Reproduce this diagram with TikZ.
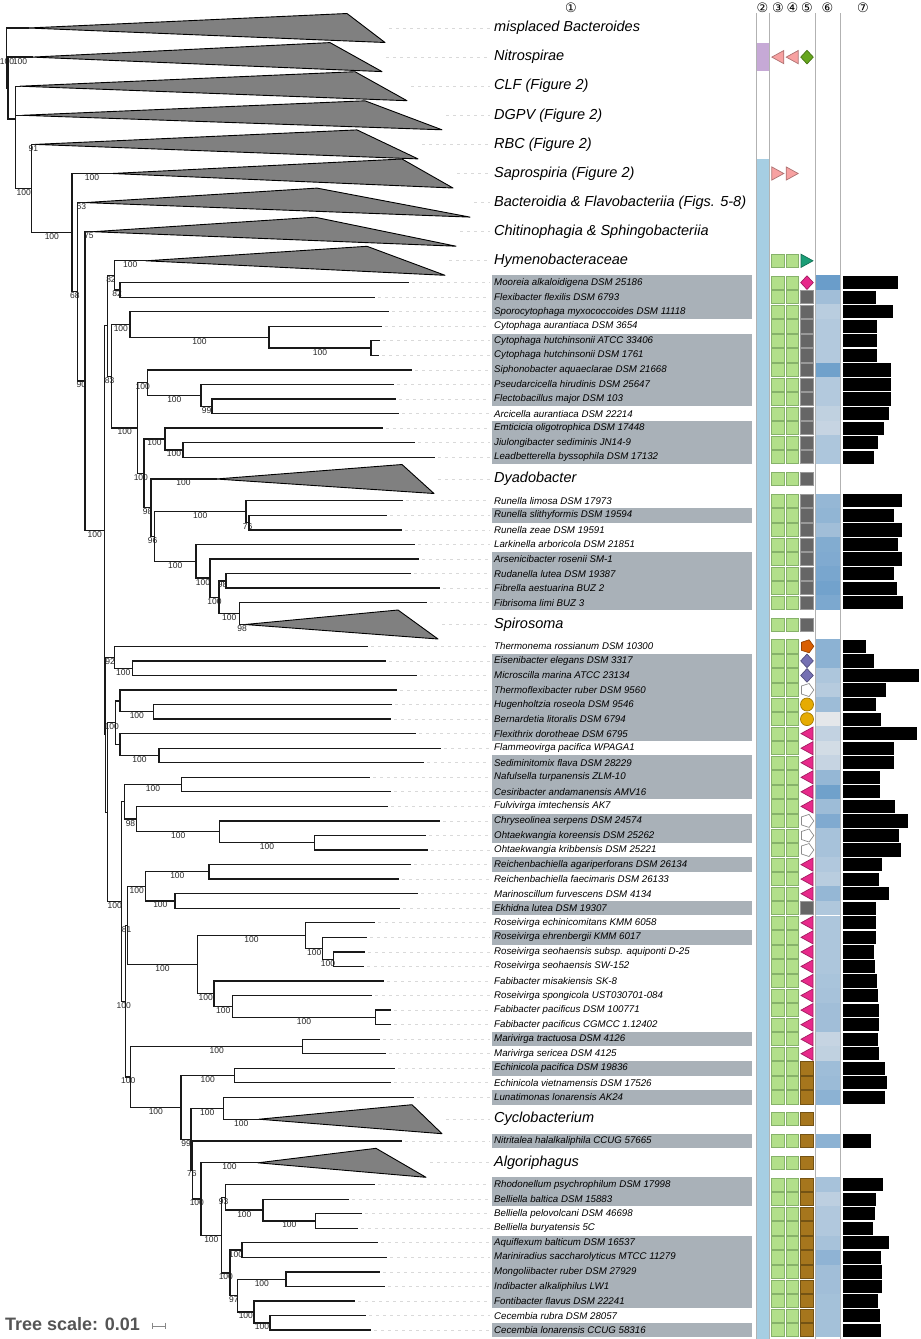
\documentclass[tikz,border=0pt]{standalone}
\usepackage{fontspec}
\setmainfont{Liberation Sans}
\newfontfamily\djv{DejaVu Sans}

\definecolor{hlgrey}{HTML}{A9B1B8}
\definecolor{colblue}{HTML}{A6CEE3}
\definecolor{colpurple}{HTML}{C6A9D6}
\definecolor{sqgreen}{HTML}{B2DF8A}
\definecolor{sqline}{HTML}{86B26A}
\definecolor{dkgrey}{HTML}{666666}
\definecolor{symbrown}{HTML}{A6761D}
\definecolor{symsalmon}{HTML}{F7A1A1}
\definecolor{symmag}{HTML}{E7298A}
\definecolor{sympurple}{HTML}{7570B3}
\definecolor{symorange}{HTML}{D95F02}
\definecolor{symgold}{HTML}{E6AB02}
\definecolor{symteal}{HTML}{1B9E77}
\definecolor{symolive}{HTML}{66A61E}
\definecolor{hmhi}{HTML}{6A9DCA}
\definecolor{hmlo}{HTML}{E4E7EA}
\definecolor{treegrey}{HTML}{808080}
\definecolor{scalegrey}{HTML}{555555}

% column 3-5 symbols (x, y) or (y) with column 5 at x=807
\newcommand\greensq[2]{\filldraw[symline,fill=sqgreen,draw=sqline] (#1-6.3,#2-6.6) rectangle (#1+6.3,#2+6.6);}
\newcommand\salmonleft[2]{\filldraw[symline,fill=symsalmon,draw=symsalmon!70!black] (#1+6,#2-6.6) -- (#1+6,#2+6.6) -- (#1-6,#2) -- cycle;}
\newcommand\salmonright[2]{\filldraw[symline,fill=symsalmon,draw=symsalmon!70!black] (#1-6,#2-6.6) -- (#1-6,#2+6.6) -- (#1+6,#2) -- cycle;}
\newcommand\symgs[1]{\filldraw[symline,fill=dkgrey,draw=black!40] (800.7,#1-6.6) rectangle (813.3,#1+6.6);}
\newcommand\symbq[1]{\filldraw[symline,fill=symbrown,draw=symbrown!70!black] (800.7,#1-6.6) rectangle (813.3,#1+6.6);}
\newcommand\symmd[1]{\filldraw[symline,fill=symmag,draw=symmag!70!black] (807,#1-6.8) -- (813.3,#1) -- (807,#1+6.8) -- (800.7,#1) -- cycle;}
\newcommand\sympd[1]{\filldraw[symline,fill=sympurple,draw=sympurple!70!black] (807,#1-6.8) -- (813.3,#1) -- (807,#1+6.8) -- (800.7,#1) -- cycle;}
\newcommand\symolive[1]{\filldraw[symline,fill=symolive,draw=symolive!70!black] (807,#1-6.8) -- (813.3,#1) -- (807,#1+6.8) -- (800.7,#1) -- cycle;}
\newcommand\symml[1]{\filldraw[symline,fill=symmag,draw=symmag!70!black] (813,#1-6.6) -- (813,#1+6.6) -- (801,#1) -- cycle;}
\newcommand\symteal[1]{\filldraw[symline,fill=symteal,draw=symteal!70!black] (801,#1-6.6) -- (801,#1+6.6) -- (813,#1) -- cycle;}
\newcommand\symop[1]{\filldraw[symline,fill=symorange,draw=symorange!70!black] (813.8,#1) -- (809.1,#1-6.5) -- (801.5,#1-4) -- (801.5,#1+4) -- (809.1,#1+6.5) -- cycle;}
\newcommand\symwp[1]{\filldraw[symline,fill=white,draw=black!45] (813.8,#1) -- (809.1,#1-6.5) -- (801.5,#1-4) -- (801.5,#1+4) -- (809.1,#1+6.5) -- cycle;}
\newcommand\symoc[1]{\filldraw[symline,fill=symgold,draw=symgold!70!black] (807,#1) circle (6.5);}

\begin{document}
\begin{tikzpicture}[x=1pt,y=-1pt]
  \tikzstyle{br}=[line width=1.3pt,draw=black!90,line cap=rect]
  \tikzstyle{bsfont}=[inner sep=0pt,text=black!85,font=\fontsize{8.5}{9}\selectfont]
  \tikzstyle{bs}=[bsfont,pos=0.75,yshift=-4pt]
  \tikzstyle{leaf}=[anchor=west,inner sep=0pt,font=\itshape\fontsize{9.7}{11}\selectfont]
  \tikzstyle{cladelab}=[anchor=west,inner sep=0pt,font=\itshape\fontsize{14.5}{16}\selectfont]
  \tikzstyle{clade}=[fill=treegrey,draw=black,line width=0.9pt,line join=round]
  \tikzstyle{guide}=[draw=black!15,line width=0.7pt,dash pattern=on 3pt off 4pt]
  \tikzstyle{hl}=[fill=hlgrey]
  \tikzstyle{symline}=[line width=0.7pt]
  \tikzstyle{colline}=[draw=black!30,line width=0.9pt]
  \tikzstyle{circnum}=[inner sep=0pt,font=\djv\fontsize{13}{14}\selectfont]

  \useasboundingbox (0,0) rectangle (921,1339);

  % column 2
  \fill[colpurple] (757,42.8) rectangle (768.5,71.4);
  \fill[colblue] (757,158.8) rectangle (768.5,1339);

  % internal nodes of the tree
  \coordinate (R0) at (6.7,58);
  \coordinate (R1) at (8,88);
  \coordinate (R2) at (15.7,119);
  \coordinate (R4) at (31.7,188.6);
  \coordinate (R5) at (72,232.7);
  \coordinate (R6) at (77.7,291.8);
  \coordinate (R7) at (85,381.0);
  \coordinate (R8) at (104.3,530.3);
  \coordinate (n82) at (107.7,325.8);
  \coordinate (nHm) at (114.3,275.4);
  \coordinate (nMF) at (120,289.9);
  \coordinate (n83) at (111.7,376.3);
  \coordinate (nCyto) at (130,324.5);
  \coordinate (nCa) at (269,337.2);
  \coordinate (nCh) at (371,348.1);
  \coordinate (n137) at (137.7,428.0);
  \coordinate (nSi) at (147.7,382.7);
  \coordinate (nPs) at (201,395.4);
  \coordinate (nFl) at (212,406.3);
  \coordinate (n144) at (144,473.4);
  \coordinate (nEm) at (165,439.0);
  \coordinate (nJi) at (183,450.0);
  \coordinate (n151) at (151,507.8);
  \coordinate (n154) at (154.3,536.5);
  \coordinate (nRu) at (246,511.7);
  \coordinate (nRz) at (249,522.7);
  \coordinate (nLa) at (196,561.3);
  \coordinate (nAr) at (210,578.1);
  \coordinate (n219) at (219,597.2);
  \coordinate (nRd) at (226,580.9);
  \coordinate (nFb) at (239.3,613.6);
  \coordinate (nA) at (105.7,734.7);
  \coordinate (nT) at (114.3,657.2);
  \coordinate (nT2) at (132.3,668.2);
  \coordinate (nF) at (107.7,812.2);
  \coordinate (nU) at (115.7,722.7);
  \coordinate (nU1) at (120,700.9);
  \coordinate (nU1b) at (153.7,711.8);
  \coordinate (nU2) at (120,744.5);
  \coordinate (nU2b) at (159,755.4);
  \coordinate (nC) at (121.7,901.6);
  \coordinate (nB1) at (124.3,801.8);
  \coordinate (nNC) at (181.7,784.5);
  \coordinate (nFu) at (136.7,819.1);
  \coordinate (nCs) at (219.7,831.8);
  \coordinate (nOh) at (314.3,842.7);
  \coordinate (nE) at (125.7,1001.3);
  \coordinate (nRR) at (127.7,925.5);
  \coordinate (nRei) at (145.7,886.4);
  \coordinate (nRF) at (209,871.8);
  \coordinate (nME) at (175,901.0);
  \coordinate (nRos) at (197.3,964.6);
  \coordinate (nRec) at (305.7,935.5);
  \coordinate (nReh) at (322.7,948.2);
  \coordinate (nRs) at (333.3,959.2);
  \coordinate (nFm) at (214,993.7);
  \coordinate (nRsp) at (232.3,1006.4);
  \coordinate (nFP) at (375.7,1017.4);
  \coordinate (nMj) at (130.7,1077.0);
  \coordinate (nMar) at (302.7,1046.5);
  \coordinate (nJ) at (181,1107.4);
  \coordinate (nEc) at (234.3,1075.6);
  \coordinate (nK) at (191,1139.2);
  \coordinate (nLc) at (223.3,1108.3);
  \coordinate (nN76) at (192.7,1170.0);
  \coordinate (nG) at (201,1199.0);
  \coordinate (nH) at (221.7,1235.2);
  \coordinate (nH1) at (225.7,1197.4);
  \coordinate (nB2) at (263,1210.1);
  \coordinate (nB3) at (315.7,1221.0);
  \coordinate (nM) at (230,1272.9);
  \coordinate (nAM) at (242,1250.1);
  \coordinate (nL) at (237.7,1295.6);
  \coordinate (nMI) at (286,1279.2);
  \coordinate (nFC) at (254,1312.0);
  \coordinate (nCC) at (270,1322.9);

  % collapsed clades
  \foreach \c/\y/\ax/\tx/\bx/\lab in {
    cMis/28.0/28/347/385/misplaced Bacteroides,
    cNit/57.1/32/330/382/Nitrospirae,
    cCLF/86.2/20/355/407/CLF (Figure 2),
    cDGPV/115.3/22/365/442/DGPV (Figure 2),
    cRBC/144.4/35/357/418/RBC (Figure 2),
    cSap/173.5/112/402/453/Saprospiria (Figure 2),
    cBac/202.6/85/317/470/Bacteroidia \& Flavobacteriia (Figs. 5-8),
    cChi/231.7/93/315/456/Chitinophagia \& Sphingobacteriia,
    cHym/260.8/146/367/445/Hymenobacteraceae,
    cDya/479.0/216/402/434/Dyadobacter,
    cSpi/624.5/245/398/438/Spirosoma,
    cCyc/1119.2/259/412/442/Cyclobacterium,
    cAlg/1162.8/258/376/426/Algoriphagus}{
    \coordinate (\c) at (\ax,\y);
    \draw[guide] (\bx+4,\y) -- (490,\y);
    \filldraw[clade] (\c) -- (\tx,\y-14.5) -- (\bx,\y+14.5) -- cycle;
    \node[cladelab] (l\c) at (494,\y) {\lab};
  }

  % branches with bootstrap values
  \node[bsfont] (rootbs) at (7,62) {100};
  \draw[br] (R0) |- (cMis);
  \draw[br] (R0) |- (R1);
  \draw[br] (R1) |- node[bs]{100} (cNit);
  \draw[br] (R1) |- (R2);
  \draw[br] (R2) |- (cCLF);
  \draw[br] (R2) |- (cDGPV);
  \draw[br] (R2) |- node[bs]{100} (R4);
  \draw[br] (R4) |- node[bs]{91} (cRBC);
  \draw[br] (R4) |- node[bs]{100} (R5);
  \draw[br] (R5) |- node[bs]{100} (cSap);
  \draw[br] (R5) |- node[bs]{68} (R6);
  \draw[br] (R6) |- node[bs]{63} (cBac);
  \draw[br] (R6) |- node[bs]{90} (R7);
  \draw[br] (R7) |- node[bs]{75} (cChi);
  \draw[br] (R7) |- node[bs]{100} (R8);
  \draw[br] (R8) |- (n82);
  \draw[br] (R8) |- (nA);
  \draw[br] (n82) |- node[bs]{82} (nHm);
  \draw[br] (n82) |- node[bs]{83} (n83);
  \draw[br] (nHm) |- node[bs]{100} (cHym);
  \draw[br] (nHm) |- node[bs]{82} (nMF);
  \draw[br] (n83) |- node[bs]{100} (nCyto);
  \draw[br] (n83) |- node[bs]{100} (n137);
  \draw[br] (nCyto) |- node[bs]{100} (nCa);
  \draw[br] (nCa) |- node[bs]{100} (nCh);
  \draw[br] (n137) |- node[bs]{100} (nSi);
  \draw[br] (n137) |- node[bs]{100} (n144);
  \draw[br] (nSi) |- node[bs]{100} (nPs);
  \draw[br] (nPs) |- node[bs]{99} (nFl);
  \draw[br] (n144) |- node[bs]{100} (nEm);
  \draw[br] (n144) |- node[bs]{98} (n151);
  \draw[br] (nEm) |- node[bs]{100} (nJi);
  \draw[br] (n151) |- node[bs]{100} (cDya);
  \draw[br] (n151) |- node[bs]{96} (n154);
  \draw[br] (n154) |- node[bs]{100} (nRu);
  \draw[br] (n154) |- node[bs]{100} (nLa);
  \draw[br] (nRu) |- node[bs]{76} (nRz);
  \draw[br] (nLa) |- node[bs]{100} (nAr);
  \draw[br] (nAr) |- node[bs]{100} (n219);
  \draw[br] (n219) |- node[bs]{98} (nRd);
  \draw[br] (n219) |- node[bs]{100} (nFb);
  \draw[br] (nFb) |- node[bs]{98} (cSpi);
  \draw[br] (nA) |- node[bs]{92} (nT);
  \draw[br] (nA) |- (nF);
  \draw[br] (nT) |- node[bs]{100} (nT2);
  \draw[br] (nF) |- node[bs]{100} (nU);
  \draw[br] (nF) |- node[bs]{100} (nC);
  \draw[br] (nU) |- (nU1);
  \draw[br] (nU) |- (nU2);
  \draw[br] (nU1) |- node[bs]{100} (nU1b);
  \draw[br] (nU2) |- node[bs]{100} (nU2b);
  \draw[br] (nC) |- (nB1);
  \draw[br] (nC) |- node[bs]{100} (nE);
  \draw[br] (nB1) |- node[bs]{100} (nNC);
  \draw[br] (nB1) |- node[bs]{98} (nFu);
  \draw[br] (nFu) |- node[bs]{100} (nCs);
  \draw[br] (nCs) |- node[bs]{100} (nOh);
  \draw[br] (nE) |- node[bs]{81} (nRR);
  \draw[br] (nE) |- node[bs]{100} (nMj);
  \draw[br] (nRR) |- node[bs]{100} (nRei);
  \draw[br] (nRR) |- node[bs]{100} (nRos);
  \draw[br] (nRei) |- node[bs]{100} (nRF);
  \draw[br] (nRei) |- node[bs]{100} (nME);
  \draw[br] (nRos) |- node[bs]{100} (nRec);
  \draw[br] (nRos) |- node[bs]{100} (nFm);
  \draw[br] (nRec) |- node[bs]{100} (nReh);
  \draw[br] (nReh) |- node[bs]{100} (nRs);
  \draw[br] (nFm) |- node[bs]{100} (nRsp);
  \draw[br] (nRsp) |- node[bs]{100} (nFP);
  \draw[br] (nMj) |- node[bs]{100} (nMar);
  \draw[br] (nMj) |- node[bs]{100} (nJ);
  \draw[br] (nJ) |- node[bs]{100} (nEc);
  \draw[br] (nJ) |- node[bs]{99} (nK);
  \draw[br] (nK) |- node[bs]{100} (nLc);
  \draw[br] (nK) |- node[bs]{76} (nN76);
  \draw[br] (nLc) |- node[bs]{100} (cCyc);
  \draw[br] (nN76) |- node[bs]{100} (nG);
  \draw[br] (nG) |- node[bs]{100} (cAlg);
  \draw[br] (nG) |- node[bs]{100} (nH);
  \draw[br] (nH) |- node[bs]{93} (nH1);
  \draw[br] (nH) |- node[bs]{100} (nM);
  \draw[br] (nH1) |- node[bs]{100} (nB2);
  \draw[br] (nB2) |- node[bs]{100} (nB3);
  \draw[br] (nM) |- node[bs]{100} (nAM);
  \draw[br] (nM) |- node[bs]{97} (nL);
  \draw[br] (nL) |- node[bs]{100} (nMI);
  \draw[br] (nL) |- node[bs]{100} (nFC);
  \draw[br] (nFC) |- node[bs]{100} (nCC);

  % leaves: y / name / tip / parent / symbol 5 / heat 6 / bar 7 / highlight
  \foreach \y/\n/\tx/\p/\s/\h/\b/\hl [count=\i] in {
    282.6/Mooreia alkaloidigena DSM 25186/408/nMF/md/100/898/1,
    297.2/Flexibacter flexilis DSM 6793/374/nMF/gs/55/876/1,
    311.7/Sporocytophaga myxococcoides DSM 11118/388/nCyto/gs/35/893/1,
    326.3/Cytophaga aurantiaca DSM 3654/381/nCa/gs/40/877/0,
    340.8/Cytophaga hutchinsonii ATCC 33406/379/nCh/gs/40/877/1,
    355.4/Cytophaga hutchinsonii DSM 1761/378/nCh/gs/40/877/1,
    369.9/Siphonobacter aquaeclarae DSM 21668/411/nSi/gs/95/891/1,
    384.5/Pseudarcicella hirudinis DSM 25647/393/nPs/gs/40/891/1,
    399.0/Flectobacillus major DSM 103/395/nFl/gs/40/891/1,
    413.6/Arcicella aurantiaca DSM 22214/398/nFl/gs/30/889/0,
    428.1/Emticicia oligotrophica DSM 17448/382/nEm/gs/25/884/1,
    442.7/Jiulongibacter sediminis JN14-9/414/nJi/gs/45/878/1,
    457.2/Leadbetterella byssophila DSM 17132/434/nJi/gs/45/874/1,
    500.8/Runella limosa DSM 17973/402/nRu/gs/65/902/0,
    515.4/Runella slithyformis DSM 19594/386/nRz/gs/68/894/1,
    529.9/Runella zeae DSM 19591/401/nRz/gs/55/902/0,
    544.5/Larkinella arboricola DSM 21851/414/nLa/gs/80/898/0,
    559.0/Arsenicibacter rosenii SM-1/418/nAr/gs/82/902/1,
    573.6/Rudanella lutea DSM 19387/410/nRd/gs/88/894/1,
    588.1/Fibrella aestuarina BUZ 2/439/nRd/gs/93/897/1,
    602.7/Fibrisoma limi BUZ 3/426/nFb/gs/85/903/1,
    646.3/Thermonema rossianum DSM 10300/367/nT/op/72/866/0,
    660.9/Eisenibacter elegans DSM 3317/385/nT2/pd/72/874/1,
    675.4/Microscilla marina ATCC 23134/416/nT2/pd/45/919/1,
    690.0/Thermoflexibacter ruber DSM 9560/396/nU1/wp/38/886/1,
    704.5/Hugenholtzia roseola DSM 9546/391/nU1b/oc/58/876/1,
    719.1/Bernardetia litoralis DSM 6794/390/nU1b/oc/0/881/1,
    733.6/Flexithrix dorotheae DSM 6795/415/nU2/ml/28/917/1,
    748.2/Flammeovirga pacifica WPAGA1/440/nU2b/ml/15/894/0,
    762.7/Sediminitomix flava DSM 28229/423/nU2b/ml/25/894/1,
    777.3/Nafulsella turpanensis ZLM-10/369/nNC/ml/65/880/1,
    791.8/Cesiribacter andamanensis AMV16/390/nNC/ml/95/880/1,
    806.4/Fulvivirga imtechensis AK7/387/nFu/ml/58/895/0,
    820.9/Chryseolinea serpens DSM 24574/439/nCs/wp/82/908/1,
    835.5/Ohtaekwangia koreensis DSM 25262/425/nOh/wp/50/899/1,
    850.0/Ohtaekwangia kribbensis DSM 25221/427/nOh/wp/50/901/0,
    864.6/Reichenbachiella agariperforans DSM 26134/410/nRF/ml/42/882/1,
    879.1/Reichenbachiella faecimaris DSM 26133/398/nRF/ml/35/879/0,
    893.7/Marinoscillum furvescens DSM 4134/417/nME/ml/65/889/0,
    908.2/Ekhidna lutea DSM 19307/399/nME/gs/43/876/1,
    922.8/Roseivirga echinicomitans KMM 6058/374/nRec/ml/45/876/0,
    937.3/Roseivirga ehrenbergii KMM 6017/366/nReh/ml/45/876/1,
    951.9/Roseivirga seohaensis subsp. aquiponti D-25/364/nRs/ml/45/874/0,
    966.4/Roseivirga seohaensis SW-152/363/nRs/ml/45/875/0,
    981.0/Fabibacter misakiensis SK-8/383/nFm/ml/48/877/0,
    995.5/Roseivirga spongicola UST030701-084/371/nRsp/ml/50/878/0,
    1010.1/Fabibacter pacificus DSM 100771/390/nFP/ml/55/879/0,
    1024.6/Fabibacter pacificus CGMCC 1.12402/390/nFP/ml/55/879/0,
    1039.2/Marivirga tractuosa DSM 4126/379/nMar/ml/25/878/1,
    1053.7/Marivirga sericea DSM 4125/385/nMar/ml/30/879/0,
    1068.3/Echinicola pacifica DSM 19836/394/nEc/bq/57/885/1,
    1082.8/Echinicola vietnamensis DSM 17526/390/nEc/bq/60/887/0,
    1097.4/Lunatimonas lonarensis AK24/413/nLc/bq/72/885/1,
    1141.0/Nitritalea halalkaliphila CCUG 57665/401/nN76/bq/72/871/1,
    1184.6/Rhodonellum psychrophilum DSM 17998/374/nH1/bq/50/883/1,
    1199.2/Belliella baltica DSM 15883/348/nB2/bq/32/876/1,
    1213.7/Belliella pelovolcani DSM 46698/361/nB3/bq/42/875/0,
    1228.3/Belliella buryatensis 5C/357/nB3/bq/42/873/0,
    1242.8/Aquiflexum balticum DSM 16537/377/nAM/bq/50/889/1,
    1257.4/Mariniradius saccharolyticus MTCC 11279/386/nAM/bq/70/881/1,
    1271.9/Mongoliibacter ruber DSM 27929/379/nMI/bq/55/882/1,
    1286.5/Indibacter alkaliphilus LW1/384/nMI/bq/55/882/1,
    1301.0/Fontibacter flavus DSM 22241/354/nFC/bq/52/878/1,
    1315.6/Cecembia rubra DSM 28057/365/nCC/bq/52/880/0,
    1330.1/Cecembia lonarensis CCUG 58316/370/nCC/bq/52/881/1}{
    \ifnum\hl=1 \fill[hl] (492,\y-7.25) rectangle (752,\y+7.25); \fi
    \coordinate (t\i) at (\tx,\y);
    \draw[guide] (\tx+4,\y) -- (490,\y);
    \draw[br] (\p) |- (t\i);
    \node[leaf] (lab\i) at (494,\y) {\n};
    \greensq{777.8}{\y}\greensq{792.2}{\y}
    \csname sym\s\endcsname{\y}
    \fill[hmhi!\h!hmlo] (815.5,\y-7.28) rectangle (840,\y+7.28);
    \fill[black] (843,\y-6.6) rectangle (\b,\y+6.6);
  }

  % symbols on the collapsed rows
  \salmonleft{777.8}{57.1}\salmonleft{792.2}{57.1}\symolive{57.1}
  \salmonright{777.8}{173.5}\salmonright{792.2}{173.5}
  \greensq{777.8}{260.8}\greensq{792.2}{260.8}\symteal{260.8}
  \greensq{777.8}{479.0}\greensq{792.2}{479.0}\symgs{479.0}
  \greensq{777.8}{624.5}\greensq{792.2}{624.5}\symgs{624.5}
  \greensq{777.8}{1119.2}\greensq{792.2}{1119.2}\symbq{1119.2}
  \greensq{777.8}{1162.8}\greensq{792.2}{1162.8}\symbq{1162.8}

  % column frames
  \foreach \cx in {756.5,769,815,840.5}
    \draw[colline] (\cx,13) -- (\cx,1339);

  % column numbers
  \node[circnum] (k1) at (571,7.5) {①};
  \node[circnum] (k2) at (762.5,7.5) {②};
  \node[circnum] (k3) at (778,7.5) {③};
  \node[circnum] (k4) at (792.5,7.5) {④};
  \node[circnum] (k5) at (807,7.5) {⑤};
  \node[circnum] (k6) at (827.5,7.5) {⑥};
  \node[circnum] (k7) at (863,7.5) {⑦};

  % tree scale
  \node[anchor=base west,inner sep=0pt,text=scalegrey,
    font=\bfseries\fontsize{18}{20}\selectfont] (scale) at (5,1330) {Tree scale: 0.01};
  \draw[scalegrey!70,line width=0.8pt] (152,1326) -- (165.5,1326)
    (152,1322.7) -- (152,1329.3) (165.5,1322.7) -- (165.5,1329.3);
\end{tikzpicture}
\end{document}
